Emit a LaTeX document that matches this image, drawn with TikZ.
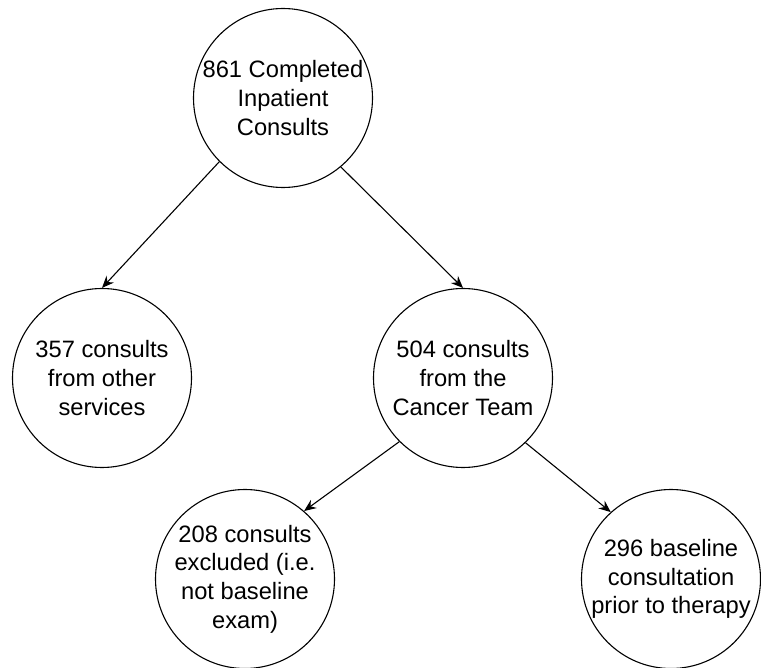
\documentclass[tikz,border=0pt]{standalone}
\usepackage{fontspec}
\setmainfont{Liberation Sans}
\usetikzlibrary{arrows.meta}

\begin{document}
\begin{tikzpicture}[x=1pt,y=-1pt,auto,
circ/.style={
  circle, draw, line width=1.1pt,
  minimum size=179pt, inner sep=0pt,
  align=center,
  font=\fontsize{23.7}{28.6}\selectfont
},
arr/.style={
  line width=1.1pt,
  -{Stealth[length=12pt,width=10pt,inset=4pt]}
}]
\useasboundingbox (0,0) rectangle (761,668);
\node (total) [circ] at (283,98) {861 Completed\\Inpatient\\Consults};
\node (other) [circ] at (102,378) {357 consults\\from other\\services};
\node (cancer) [circ] at (463,378) {504 consults\\from the\\Cancer Team};
\node (excl) [circ] at (245,579) {208 consults\\excluded (i.e.\\not baseline\\exam)};
\node (base) [circ] at (671,579) {296 baseline\\consultation\\prior to therapy};

\draw[arr] (total.225) -- (other.north);
\draw[arr] (total.310) -- (cancer.north);
\draw[arr] (cancer.225) -- (excl.49);
\draw[arr] (cancer.314) -- (base.132);
\end{tikzpicture}
\end{document}
